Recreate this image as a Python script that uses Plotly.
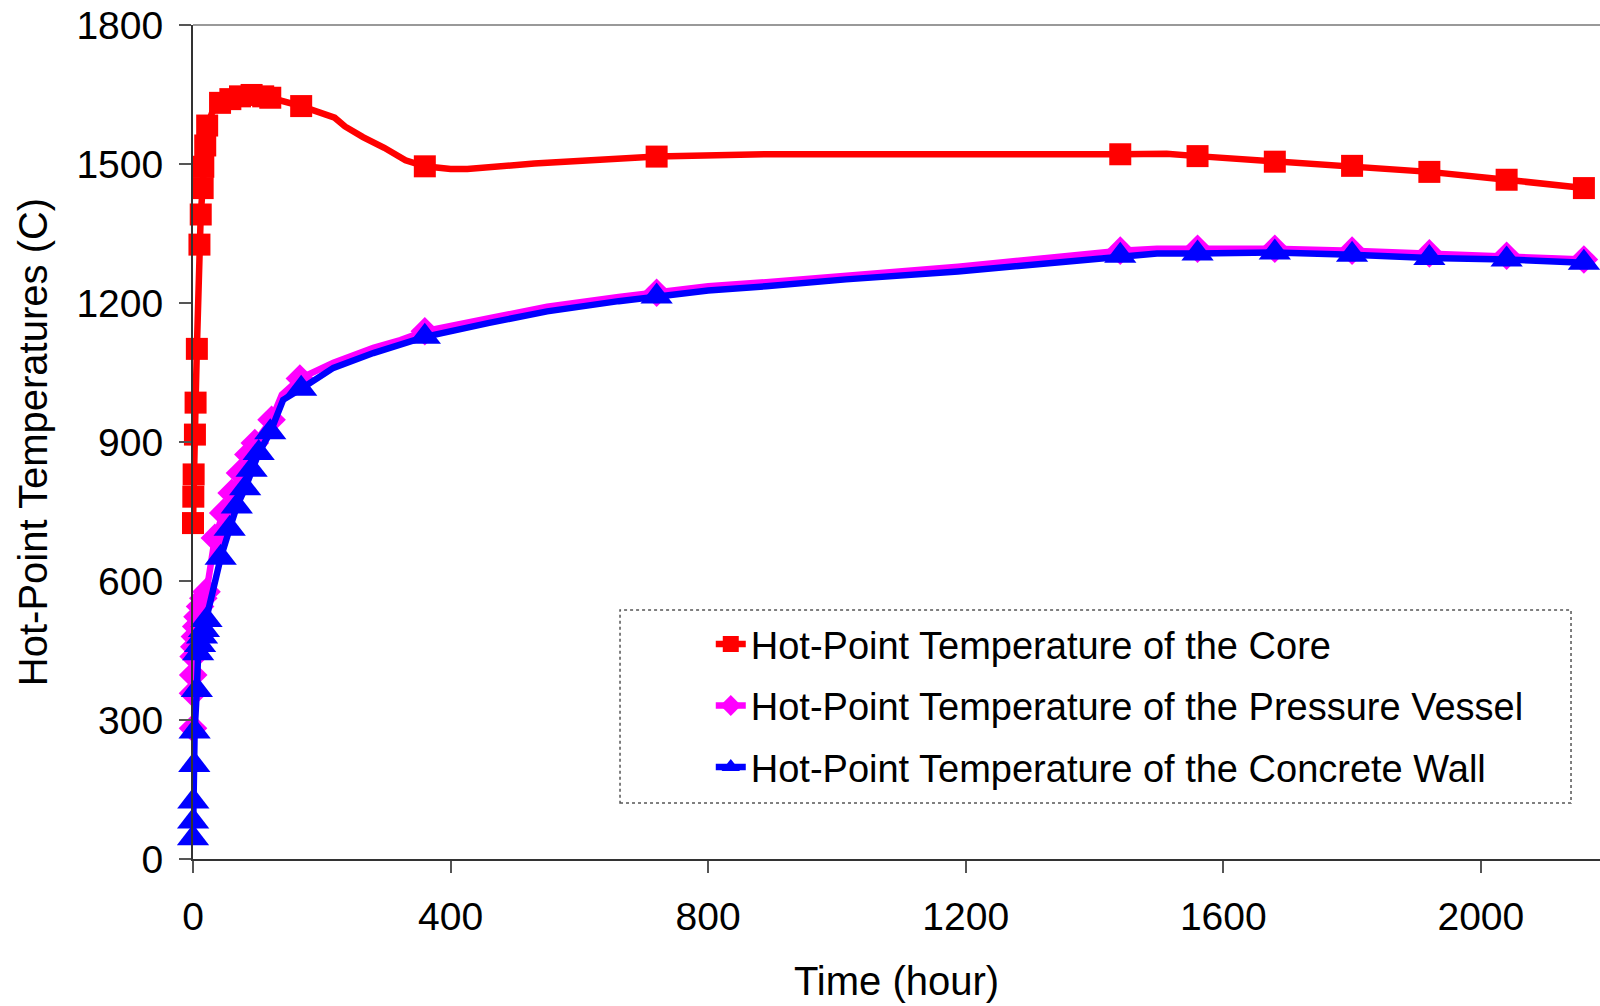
import plotly.graph_objects as go

# ---------------- data ----------------
# Hot-point temperature of the core
core_t = [0, 0.5, 1, 3, 4, 6, 10, 12, 15, 16, 19, 22, 30, 42, 58, 73, 91, 109, 120, 168,
          220, 236, 264, 297, 330, 360, 400, 426, 530, 720, 834, 890, 1440, 1512,
          1560, 1680, 1800, 1920, 2040, 2160]
core_T = [725, 782, 830, 916, 985, 1101, 1326, 1391, 1448, 1494, 1540, 1583, 1612, 1632, 1640, 1646, 1649, 1646, 1643, 1625,
          1600, 1581, 1558, 1535, 1508, 1495, 1489, 1489, 1501, 1516, 1517, 1521, 1521, 1522,
          1517, 1505, 1496, 1483, 1466, 1448]
core_has_marker = [1, 1, 1, 1, 1, 1, 1, 1, 1, 1, 1, 1, 0, 1, 1, 1, 1, 1, 1, 1,
                   0, 0, 0, 0, 0, 1, 0, 0, 0, 1, 0, 0, 1, 0,
                   1, 1, 1, 1, 1, 1]

# Hot-point temperature of the pressure vessel
vessel_t = [0, 0, 0.3, 1, 2, 3, 5, 7, 11, 16, 21, 34, 47, 60, 73, 86, 96, 122, 138, 166,
            218, 280, 322, 360, 460, 550, 661, 720, 800, 890, 1014, 1188, 1440, 1497,
            1560, 1680, 1800, 1920, 2040, 2160]
vessel_T = [282, 358, 397, 437, 458, 480, 502, 523, 545, 563, 577, 693, 747, 790, 833, 873, 898, 948, 1002, 1037,
            1071, 1103, 1120, 1139, 1167, 1192, 1213, 1222, 1236, 1245, 1260, 1278, 1313, 1317,
            1317, 1317, 1313, 1307, 1302, 1294]
vessel_has_marker = [1, 1, 1, 1, 1, 1, 1, 1, 1, 1, 1, 1, 1, 1, 1, 1, 1, 1, 0, 1,
                     0, 0, 0, 1, 0, 0, 0, 1, 0, 0, 0, 0, 1, 0,
                     1, 1, 1, 1, 1, 1]

# Hot-point temperature of the concrete wall
wall_t = [0, 0.2, 0.5, 2, 2.5, 6, 8, 11, 14, 17, 21, 43, 57, 68, 81, 91, 102, 120, 140, 168,
          218, 280, 322, 360, 460, 550, 661, 720, 800, 890, 1014, 1188, 1440, 1497,
          1560, 1680, 1800, 1920, 2040, 2160]
wall_T = [45, 81, 124, 203, 275, 365, 444, 462, 480, 494, 516, 650, 713, 761, 800, 840, 876, 921, 991, 1015,
          1060, 1092, 1110, 1127, 1157, 1182, 1204, 1214, 1227, 1236, 1251, 1268, 1302, 1307,
          1307, 1309, 1304, 1297, 1294, 1287]
wall_has_marker = [1, 1, 1, 1, 1, 1, 1, 1, 1, 1, 1, 1, 1, 1, 1, 1, 1, 1, 0, 1,
                   0, 0, 0, 1, 0, 0, 0, 1, 0, 0, 0, 0, 1, 0,
                   1, 1, 1, 1, 1, 1]

series_names = ["Hot-Point Temperature of the Core",
                "Hot-Point Temperature of the Pressure Vessel",
                "Hot-Point Temperature of the Concrete Wall"]

x_ticks = [0, 400, 800, 1200, 1600, 2000]
y_ticks = [0, 300, 600, 900, 1200, 1500, 1800]

# ---------------- figure ----------------
FONT = "Liberation Sans, Arial, sans-serif"
fig = go.Figure()

styles = [
    dict(color="#FF0000", symbol="square", size=22),
    dict(color="#FF00FF", symbol="diamond", size=22),
    dict(color="#0000FF", symbol="triangle-up", size=28),
]
all_series = [(core_t, core_T, core_has_marker),
              (vessel_t, vessel_T, vessel_has_marker),
              (wall_t, wall_T, wall_has_marker)]

for i, ((ts, Ts, mk), name, st) in enumerate(zip(all_series, series_names, styles)):
    fig.add_trace(go.Scatter(
        x=ts, y=Ts, mode="lines", line=dict(color=st["color"], width=6.5),
        showlegend=False, legendgroup=f"g{i}", cliponaxis=False, hoverinfo="skip"))
    mt = [t for t, m in zip(ts, mk) if m]
    mT = [v for v, m in zip(Ts, mk) if m]
    fig.add_trace(go.Scatter(
        x=mt, y=mT, mode="markers",
        marker=dict(color=st["color"], symbol=st["symbol"], size=st["size"], line=dict(width=0)),
        showlegend=False, legendgroup=f"g{i}", cliponaxis=False, name=name))
    # legend entry
    fig.add_trace(go.Scatter(
        x=[None], y=[None], mode="lines+markers", name=name, legendgroup=f"g{i}",
        line=dict(color=st["color"], width=6.5),
        marker=dict(color=st["color"], symbol=st["symbol"], size=16, line=dict(width=0))))

fig.update_layout(
    width=1600, height=1006,
    margin=dict(l=193, r=0, t=25, b=147, autoexpand=False),
    paper_bgcolor="white", plot_bgcolor="white",
    font=dict(family=FONT, size=39, color="black"),
    showlegend=True,
    legend=dict(
        x=0.368, y=0.1836, xanchor="left", yanchor="middle",
        bgcolor="rgba(0,0,0,0)", borderwidth=0,
        font=dict(family=FONT, size=38, color="black"),
        traceorder="grouped", tracegroupgap=9, itemwidth=30,
    ),
    xaxis=dict(
        range=[0, 2185], tickvals=x_ticks, ticktext=[str(v) for v in x_ticks],
        showgrid=False, zeroline=False,
        showline=True, linecolor="#333333", linewidth=2,
        ticks="outside", ticklen=12, tickwidth=1.5, tickcolor="#555555",
        tickfont=dict(family=FONT, size=39, color="black"),
        ticklabelstandoff=10,
        title=dict(text="Time (hour)", font=dict(family=FONT, size=40, color="black"), standoff=30),
        automargin=False,
    ),
    yaxis=dict(
        range=[0, 1800], tickvals=y_ticks, ticktext=[str(v) for v in y_ticks],
        showgrid=False, zeroline=False,
        showline=True, linecolor="#333333", linewidth=2,
        ticks="outside", ticklen=12, tickwidth=1.5, tickcolor="#555555",
        tickfont=dict(family=FONT, size=39, color="black"),
        ticklabelstandoff=8,
        title=dict(text="Hot-Point Temperatures (C)", font=dict(family=FONT, size=40, color="black"), standoff=16),
        automargin=False,
    ),
    shapes=[
        # grey top border of the plot area
        dict(type="line", xref="paper", yref="paper", x0=0, x1=1, y0=1, y1=1,
             line=dict(color="#999999", width=2)),
        # dotted legend frame
        dict(type="rect", xref="paper", yref="paper",
             x0=0.3035, x1=0.9794, y0=0.0672, y1=0.2987,
             line=dict(color="#555555", width=1.5, dash="dot"), fillcolor="rgba(0,0,0,0)"),
    ],
)

fig.write_html("out.html")
